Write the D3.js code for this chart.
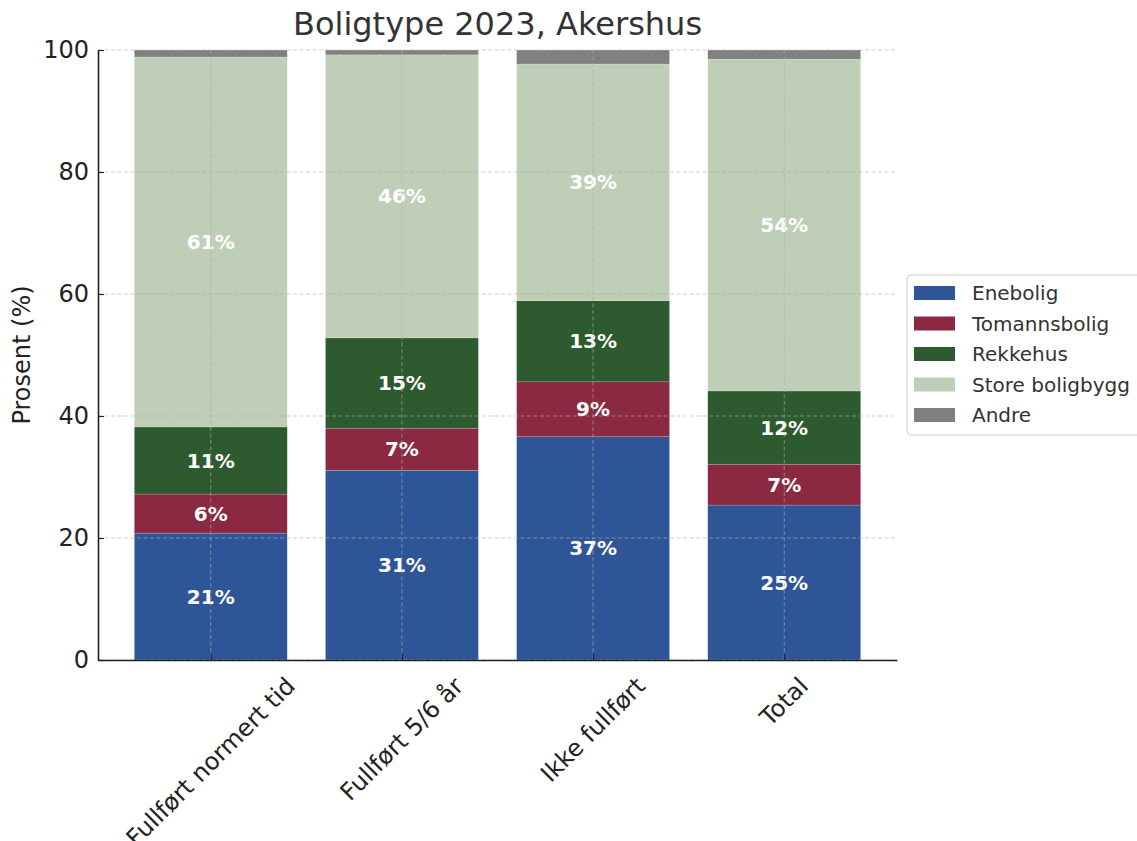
<!DOCTYPE html>
<html>
<head>
<meta charset="utf-8">
<script src="https://cdn.jsdelivr.net/npm/d3@7"></script>
<style>
  body { margin: 0; background: #fff; }
  text { font-family: "DejaVu Sans", sans-serif; }
</style>
</head>
<body>
<div id="svgWrapper"></div>
<script>
// chart values (percent of each group)
var categories = ["Fullført normert tid", "Fullført 5/6 år", "Ikke fullført", "Total"];
var seriesNames = ["Enebolig", "Tomannsbolig", "Rekkehus", "Store boligbygg", "Andre"];
var enebolig = [20.8, 31.1, 36.6, 25.4];
var tomannsbolig = [6.4, 6.9, 9.0, 6.7];
var rekkehus = [11.0, 14.8, 13.3, 12.0];
var storeBoligbygg = [60.65, 46.4, 38.8, 54.4];
var andre = [1.15, 0.8, 2.3, 1.5];
var yTicks = [0, 20, 40, 60, 80, 100];
var chartTitle = "Boligtype 2023, Akershus";
var yLabel = "Prosent (%)";

var color = ["#2e5596", "#8b2942", "#2d5a2e", "#bfceb6", "#808080"];

var fullWidth = 1137, fullHeight = 841;
var xLeft = 98, xRight = 897, yTop = 50, yBottom = 660;

// build rows for d3.stack
var seriesValues = [enebolig, tomannsbolig, rekkehus, storeBoligbygg, andre];
var stackdata = categories.map(function(c, i) {
  var obj = { cat: c, idx: i };
  for (var s = 0; s < seriesNames.length; s++) {
    obj[seriesNames[s]] = seriesValues[s][i];
  }
  return obj;
});

var sData = d3.stack().keys(seriesNames)(stackdata);

var svg = d3.select("#svgWrapper")
  .append("svg")
  .attr("width", fullWidth)
  .attr("height", fullHeight);

var xScale = d3.scaleLinear()
  .domain([-0.59, categories.length - 1 + 0.59])
  .range([xLeft, xRight]);

var yScale = d3.scaleLinear()
  .domain([0, 100])
  .range([yBottom, yTop]);

var barW = 0.8;

// bars
var series = svg.selectAll("g.series")
  .data(sData)
  .enter().append("g")
  .attr("class", "series")
  .attr("fill", function(d, i) { return color[i]; });

series.selectAll("rect")
  .data(function(d) { return d; })
  .enter().append("rect")
  .attr("x", function(d) { return xScale(d.data.idx - barW / 2); })
  .attr("width", function(d) { return xScale(barW) - xScale(0); })
  .attr("y", function(d) { return yScale(d[1]); })
  .attr("height", function(d) { return yScale(d[0]) - yScale(d[1]); })
  .attr("stroke", "#ffffff")
  .attr("stroke-opacity", 0.35)
  .attr("stroke-width", 0.5);

// grid (drawn over bars)
var grid = svg.append("g");
grid.selectAll("line.h")
  .data(yTicks)
  .enter().append("line")
  .attr("x1", xLeft).attr("x2", xRight)
  .attr("y1", function(d) { return yScale(d); })
  .attr("y2", function(d) { return yScale(d); })
  .attr("stroke", "#b0b0b0")
  .attr("stroke-opacity", 0.7)
  .attr("stroke-width", 0.9)
  .attr("stroke-dasharray", "4,2.5");
grid.selectAll("line.v")
  .data(categories)
  .enter().append("line")
  .attr("x1", function(d, i) { return xScale(i); })
  .attr("x2", function(d, i) { return xScale(i); })
  .attr("y1", yTop).attr("y2", yBottom)
  .attr("stroke", "#b0b0b0")
  .attr("stroke-opacity", 0.7)
  .attr("stroke-width", 0.9)
  .attr("stroke-dasharray", "4,2.5");

// bar labels
series.selectAll("text")
  .data(function(d) { return d.filter(function(p) { return p[1] - p[0] >= 3; }); })
  .enter().append("text")
  .attr("x", function(d) { return xScale(d.data.idx); })
  .attr("y", function(d) { return yScale((d[0] + d[1]) / 2); })
  .attr("text-anchor", "middle")
  .attr("dominant-baseline", "central")
  .style("font-size", "20px")
  .style("font-weight", "bold")
  .style("fill", "#ffffff")
  .text(function(d) { return Math.round(d[1] - d[0]) + "%"; });

// axes, ticks pointing inward
var yAxis = svg.append("g")
  .attr("transform", "translate(" + xLeft + ",0)")
  .call(d3.axisLeft(yScale).tickValues(yTicks).tickSizeInner(-6).tickSizeOuter(0).tickPadding(9));
var xAxis = svg.append("g")
  .attr("transform", "translate(0," + yBottom + ")")
  .call(d3.axisBottom(xScale).tickValues(d3.range(categories.length)).tickSizeInner(-6).tickSizeOuter(0).tickFormat(""));

[yAxis, xAxis].forEach(function(a) {
  a.select(".domain").attr("stroke", "#222").attr("stroke-width", 1.6);
  a.selectAll(".tick line").attr("stroke", "#222").attr("stroke-width", 1.2);
});
yAxis.selectAll(".tick text")
  .style("font-size", "24px")
  .style("font-family", "DejaVu Sans")
  .style("fill", "#222");

// rotated category labels, centred under their ticks like matplotlib
var xl = svg.append("g");
categories.forEach(function(c, i) {
  var t = xl.append("text")
    .attr("text-anchor", "middle")
    .attr("dominant-baseline", "central")
    .style("font-size", "24px")
    .style("fill", "#222")
    .text(c);
  var w = t.node().getComputedTextLength();
  var boxH = (w + 28) * Math.SQRT1_2;
  t.attr("transform", "translate(" + xScale(i) + "," + (yBottom + 12 + boxH / 2) + ") rotate(-45)");
});

// y label
svg.append("text")
  .attr("text-anchor", "middle")
  .attr("dominant-baseline", "central")
  .style("font-size", "24px")
  .style("fill", "#222")
  .attr("transform", "translate(22," + ((yTop + yBottom) / 2) + ") rotate(-90)")
  .text(yLabel);

// title
svg.append("text")
  .attr("x", (xLeft + xRight) / 2)
  .attr("y", 35)
  .attr("text-anchor", "middle")
  .style("font-size", "32px")
  .style("fill", "#333")
  .text(chartTitle);

// legend
var legend = svg.append("g");
legend.append("rect")
  .attr("x", 907).attr("y", 275)
  .attr("width", 260).attr("height", 160)
  .attr("rx", 4)
  .attr("fill", "#fff")
  .attr("fill-opacity", 0.8)
  .attr("stroke", "#cccccc");
for (var p = 0; p < seriesNames.length; p++) {
  var ly = 293 + 30.5 * p;
  legend.append("rect")
    .attr("x", 914).attr("y", ly - 7)
    .attr("width", 41).attr("height", 14)
    .attr("fill", color[p]);
  legend.append("text")
    .attr("x", 972).attr("y", ly)
    .attr("dominant-baseline", "central")
    .style("font-size", "20px")
    .style("fill", "#333")
    .text(seriesNames[p]);
}
</script>
</body>
</html>
